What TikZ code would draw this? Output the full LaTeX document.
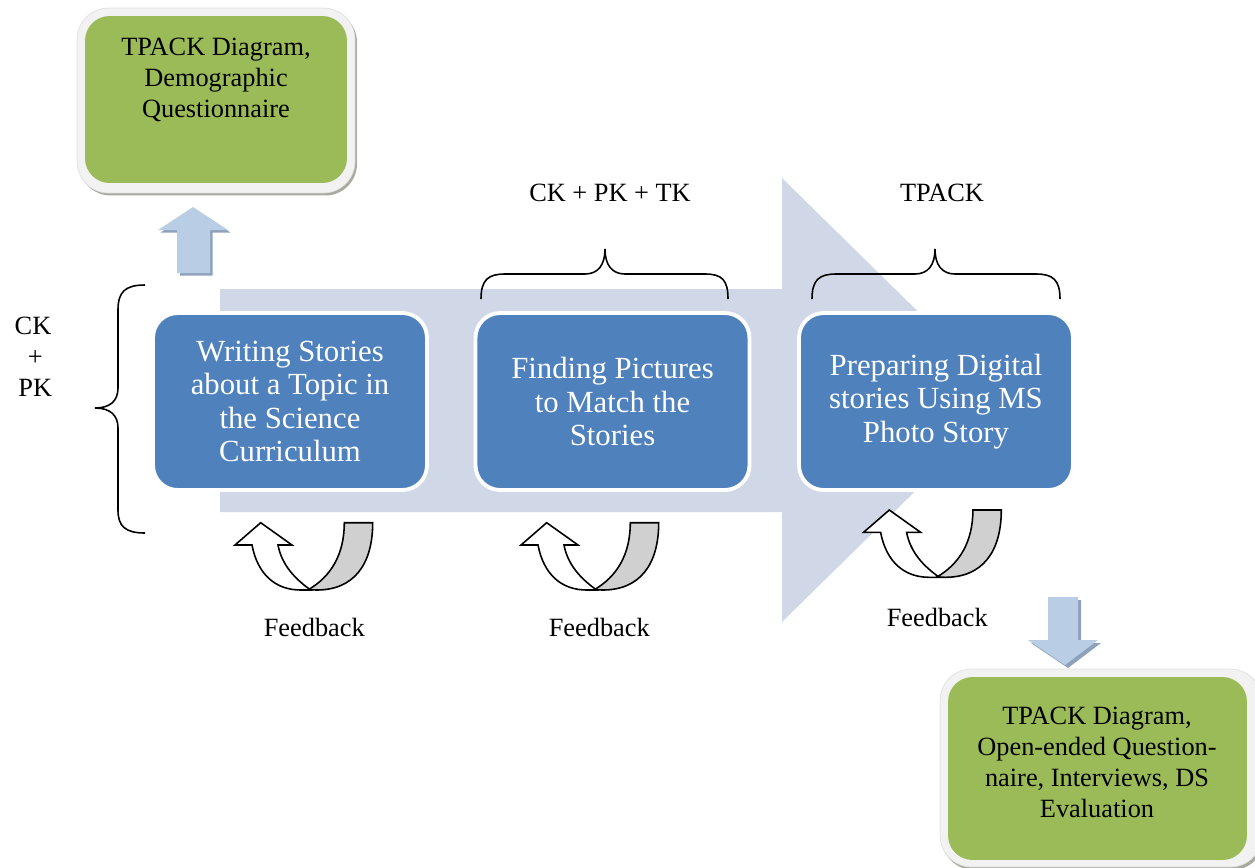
\documentclass[tikz,border=0pt]{standalone}
\usepackage{fontspec}
\setmainfont{Liberation Serif}
\definecolor{arrowbg}{HTML}{D0D8E8}
\definecolor{boxblue}{HTML}{4F81BD}
\definecolor{boxgreen}{HTML}{9BBB59}
\definecolor{blockblue}{HTML}{B9CDE5}
\definecolor{blockshadow}{HTML}{8FA2BC}
\definecolor{fbgray}{HTML}{D0D0D0}
\definecolor{framegray}{HTML}{F2F2F2}
\definecolor{frameshadow}{HTML}{A9AA9E}
\tikzset{
  bluebox/.style={rectangle, rounded corners=14pt, fill=boxblue, draw=white, line width=2.2pt,
    minimum width=5.48cm, minimum height=3.54cm, text=white, align=center,
    font=\fontsize{17.5}{19}\selectfont, inner sep=0pt},
  labeltext/.style={font=\fontsize{15}{17.6}\selectfont, inner sep=0pt, align=center},
  framebox/.style={rectangle, rounded corners=18pt, fill=framegray, draw=black!12, line width=0.4pt, inner sep=0pt},
  shadowbox/.style={rectangle, rounded corners=18pt, fill=frameshadow, inner sep=0pt},
  greenbox/.style={rectangle, rounded corners=14pt, fill=boxgreen, inner sep=0pt},
  bracestyle/.style={draw=black, line width=0.9pt},
  feedback/.pic={
    \draw[line width=0.9pt, fill=white] (-8.7,22.3) .. controls (-3,52) and (15,67.3) .. (40,67.3)
      -- (50,67.3) .. controls (34,56) and (21,42) .. (17.3,22.3)
      -- (31.3,22.3) -- (0,0) -- (-25.7,22.3) -- cycle;
    \draw[line width=0.9pt, fill=fbgray] (83.6,0) -- (112,0) .. controls (112,42) and (93,67.3) .. (56,67.3)
      -- (47.6,67) .. controls (70,54) and (83.6,32) .. (83.6,0) -- cycle;
  }
}
\begin{document}
\begin{tikzpicture}[x=0.02cm,y=-0.02cm]
\useasboundingbox (0,0) rectangle (1255,867);
\clip (0,0) rectangle (1255,867);

% big background arrow
\fill[arrowbg] (220,289) -- (782,289) -- (782,178) -- (1008,400) -- (782,622) -- (782,512) -- (220,512) -- cycle;

% braces
\draw[bracestyle] (145,285) .. controls (125,285) and (118,292) .. (118,310) -- (118,388)
  .. controls (118,401) and (110,408) .. (95,408) .. controls (110,408) and (118,415) .. (118,428)
  -- (118,510) .. controls (118,526) and (125,533) .. (145,533);
\draw[bracestyle] (481,299) .. controls (481,280) and (488,274) .. (505,274) -- (585,274)
  .. controls (598,274) and (605,265) .. (605,249) .. controls (605,265) and (612,274) .. (625,274)
  -- (705,274) .. controls (722,274) and (728,280) .. (728,299);
\draw[bracestyle] (812,299) .. controls (812,280) and (819,274) .. (836,274) -- (915,274)
  .. controls (928,274) and (935,265) .. (935,249) .. controls (935,265) and (942,274) .. (955,274)
  -- (1036,274) .. controls (1053,274) and (1060,280) .. (1060,299);

% blue process boxes
\node[bluebox] (b1) at (290,401.5) {Writing Stories\\about a Topic in\\the Science\\Curriculum};
\node[bluebox] (b2) at (612.5,401.5) {Finding Pictures\\to Match the\\Stories};
\node[bluebox] (b3) at (936,401.5) {Preparing Digital\\stories Using MS\\Photo Story};

% labels
\node[labeltext, anchor=base] (l1) at (610,201.7) {CK + PK + TK};
\node[labeltext, anchor=base] (l2) at (942,201) {TPACK};
\node[labeltext, anchor=north] (l3) at (33,317) {CK\\\,+\\\,PK};

% feedback arrows
\pic at (260.7,522.7) {feedback};
\pic at (546.7,522.7) {feedback};
\pic at (889.3,510) {feedback};
\node[labeltext, anchor=base] (f1) at (314.3,636.7) {Feedback};
\node[labeltext, anchor=base] (f2) at (599.3,636.7) {Feedback};
\node[labeltext, anchor=base] (f3) at (937.3,626.7) {Feedback};

% green box 1
\node[shadowbox, minimum width=5.56cm, minimum height=3.7cm] (s1) at (218,103) {};
\node[framebox, minimum width=5.56cm, minimum height=3.7cm] (r1) at (216,100.5) {};
\node[greenbox, minimum width=5.24cm, minimum height=3.34cm] (g1) at (216,99.5) {};
\node[labeltext, anchor=north] (t1) at (216,38) {TPACK Diagram,\\Demographic\\Questionnaire};

% up arrow
\fill[blockshadow] (180,275.5) -- (180,232.5) -- (160.5,232.5) -- (195.5,209.5) -- (230.5,232.5) -- (212.5,232.5) -- (212.5,275.5) -- cycle;
\fill[blockblue] (177,273) -- (177,230) -- (158,230) -- (193,207) -- (228,230) -- (210,230) -- (210,273) -- cycle;

% green box 2
\node[shadowbox, minimum width=6.44cm, minimum height=3.96cm] (s2) at (1103,771) {};
\node[framebox, minimum width=6.44cm, minimum height=3.96cm] (r2) at (1101,768) {};
\node[greenbox, minimum width=5.98cm, minimum height=3.66cm] (g2) at (1097.5,768.5) {};
\node[labeltext, anchor=north] (t2) at (1097,707) {TPACK Diagram,\\Open-ended Question-\\naire, Interviews, DS\\Evaluation};

% down arrow
\fill[blockshadow] (1051,600) -- (1081,600) -- (1081,643) -- (1101,643) -- (1068,668) -- (1031,643) -- (1051,643) -- cycle;
\fill[blockblue] (1048,597) -- (1078,597) -- (1078,640) -- (1098,640) -- (1065,665) -- (1028,640) -- (1048,640) -- cycle;
\end{tikzpicture}
\end{document}
